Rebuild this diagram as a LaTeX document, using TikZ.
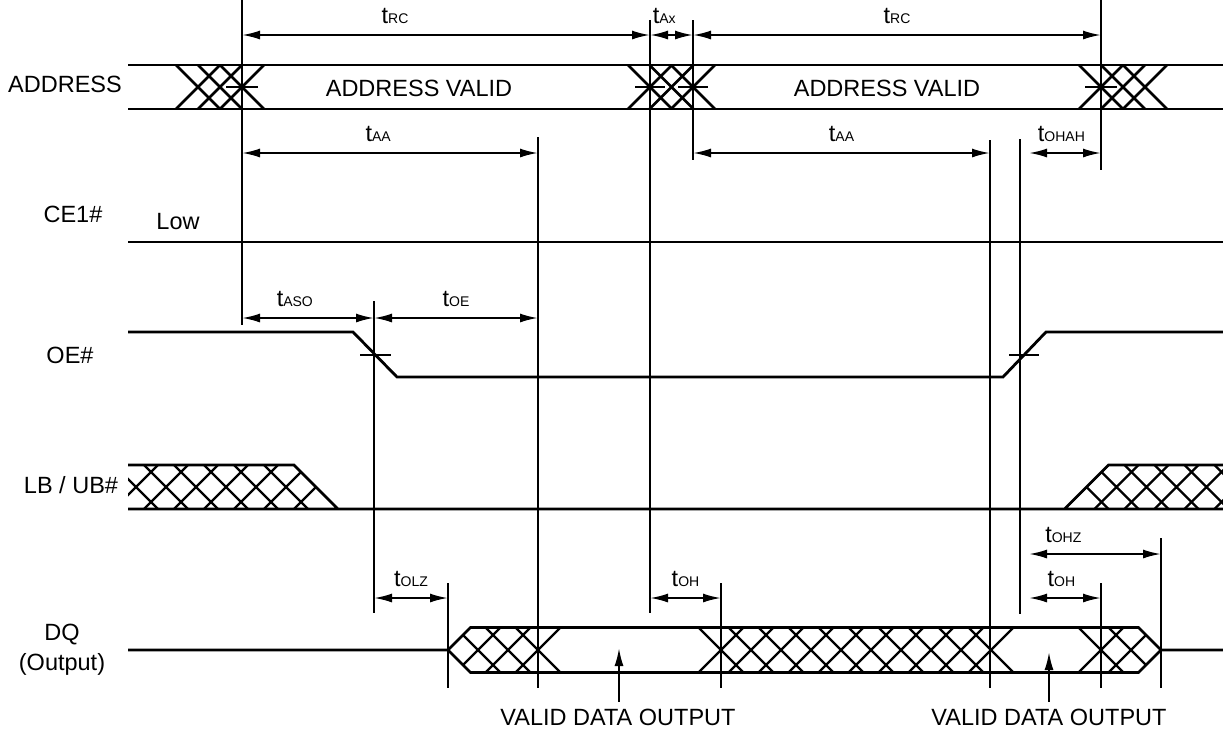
\documentclass[tikz,border=0pt]{standalone}
\usepackage{fontspec}
\setmainfont{Liberation Sans}
\usetikzlibrary{arrows.meta}
\newcommand{\subfont}{\fontsize{7}{8}\selectfont}
\newcommand{\tsig}[1]{t{\subfont #1}}
\begin{document}
\begin{tikzpicture}[x=0.5pt,y=-0.5pt,
	font=\fontsize{11.75}{15}\selectfont,
	sig/.style={line width=1.4pt},
	tline/.style={line width=1pt},
	xhatch/.style={line width=1.2pt},
	tdim/.style={line width=1pt,{Latex[length=9pt,width=4.5pt]}-{Latex[length=9pt,width=4.5pt]}},
	lbl/.style={pos=0.5,anchor=base,yshift=6pt,inner sep=0pt},
	pointer/.style={line width=1pt,-{Latex[length=9pt,width=4.5pt]}}]
			\useasboundingbox (0,0) rectangle (1223,735);
			
			\coordinate (e1) at (242,0);
			\coordinate (e2) at (374,0);
			\coordinate (e3) at (448,0);
			\coordinate (e4) at (538,0);
			\coordinate (e5) at (650,0);
			\coordinate (e6) at (693,0);
			\coordinate (e7) at (721,0);
			\coordinate (e8) at (990,0);
			\coordinate (e9) at (1020,0);
			\coordinate (e9a) at (1029,0);
			\coordinate (e10) at (1101,0);
			\coordinate (e11) at (1161,0);
			
			\node (nAddr) at (65,84) {ADDRESS};
			\node (nCe) at (73,214) {CE1\#};
			\node (nLow) at (178,222) {Low};
			\node (nOe) at (70,355) {OE\#};
			\node (nLb) at (71,485) {LB / UB\#};
			\node[align=center] (nDq) at (62,650) {DQ\\(Output)};
			
			% address bus
			\draw [sig] (128,65) -- (1223,65) (128,109) -- (1223,109);
			\foreach \c in {198,220,242,650,671.5,693,1101,1123,1145}
			\draw [sig] (\c-22,65) -- (\c+22,109) (\c-22,109) -- (\c+22,65);
			\draw [tline] (226,87) -- (258,87) (635,87) -- (665,87) (678,87) -- (708,87) (1085,87) -- (1117,87);
			\node (av1) at (419,88) {ADDRESS VALID};
			\node (av2) at (887,88) {ADDRESS VALID};
			
			% CE1# and OE#
			\draw [sig] (128,242) -- (1223,242);
			\draw [sig] (128,332) -- (353,332) -- (397,377) -- (1003,377) -- (1046,332) -- (1223,332);
			\draw [tline] (360,355) -- (391,355) (1009,355) -- (1039,355);
			
			% LB / UB#
			\begin{scope}
			\clip (128,465) -- (294,465) -- (338,509) -- (128,509) -- cycle;
			\foreach \c in {136,166,...,316}
			\draw [xhatch] (\c-22,465) -- (\c+22,509) (\c-22,509) -- (\c+22,465);
			\end{scope}
			\begin{scope}
			\clip (1064.5,509) -- (1108.5,465) -- (1223,465) -- (1223,509) -- cycle;
			\foreach \c in {1086.5,1116.5,...,1236.5}
			\draw [xhatch] (\c-22,465) -- (\c+22,509) (\c-22,509) -- (\c+22,465);
			\end{scope}
			\draw [sig] (128,465) -- (294,465) -- (338,509) (128,509) -- (1223,509)
			(1064.5,509) -- (1108.5,465) -- (1223,465);
			
			% DQ
			\begin{scope}
			\clip (448,650) -- (470.5,627.5) -- (600,627.5) -- (600,672.5) -- (470.5,672.5) -- cycle;
			\foreach \c in {478,508,538}
			\draw [xhatch] (\c-22.5,627.5) -- (\c+22.5,672.5) (\c-22.5,672.5) -- (\c+22.5,627.5);
			\end{scope}
			\foreach \c in {721,751,...,991}
			\draw [xhatch] (\c-22.5,627.5) -- (\c+22.5,672.5) (\c-22.5,672.5) -- (\c+22.5,627.5);
			\begin{scope}
			\clip (1050,627.5) -- (1138.5,627.5) -- (1161,650) -- (1138.5,672.5) -- (1050,672.5) -- cycle;
			\foreach \c in {1101,1131}
			\draw [xhatch] (\c-22.5,627.5) -- (\c+22.5,672.5) (\c-22.5,672.5) -- (\c+22.5,627.5);
			\end{scope}
			\draw [sig] (128,650) -- (448,650) -- (470.5,627.5) -- (1138.5,627.5) -- (1161,650) -- (1223,650)
			(448,650) -- (470.5,672.5) -- (1138.5,672.5) -- (1161,650);
			
			\node (vd1) at (618,717) {VALID DATA OUTPUT};
			\node (vd2) at (1049,717) {VALID DATA OUTPUT};
			\draw [pointer] (vd1.north -| 619,0) -- (619,648);
			\draw [pointer] (vd2.north -| 1049,0) -- (1049,652);
			
			% timing marks
			\draw [tline] (e1) -- (e1 |- 0,325);
			\draw [tline] (e2 |- 0,301) -- (e2 |- 0,613);
			\draw [tline] (e3 |- 0,583) -- (e3 |- 0,688);
			\draw [tline] (e4 |- 0,137) -- (e4 |- 0,688);
			\draw [tline] (e5 |- 0,20) -- (e5 |- 0,613);
			\draw [tline] (e6 |- 0,20) -- (e6 |- 0,160);
			\draw [tline] (e7 |- 0,583) -- (e7 |- 0,688);
			\draw [tline] (e8 |- 0,140) -- (e8 |- 0,688);
			\draw [tline] (e9 |- 0,139) -- (e9 |- 0,614);
			\draw [tline] (e10) -- (e10 |- 0,170) (e10 |- 0,583) -- (e10 |- 0,688);
			\draw [tline] (e11 |- 0,538) -- (e11 |- 0,688);
			
			\draw [tdim] (e1 |- 0,35) -- (e5 |- 0,35) node[lbl,pos=0.375]{\tsig{RC}};
			\draw [tdim] (e5 |- 0,35) -- (e6 |- 0,35) node[lbl,pos=0.33]{\tsig{Ax}};
			\draw [tdim] (e6 |- 0,35) -- (e10 |- 0,35) node[lbl]{\tsig{RC}};
			\draw [tdim] (e1 |- 0,153) -- (e4 |- 0,153) node[lbl,pos=0.46]{\tsig{AA}};
			\draw [tdim] (e6 |- 0,153) -- (e8 |- 0,153) node[lbl]{\tsig{AA}};
			\draw [tdim] (e9a |- 0,153) -- (e10 |- 0,153) node[lbl,pos=0.45]{\tsig{OHAH}};
			\draw [tdim] (e1 |- 0,318) -- (e2 |- 0,318) node[lbl,pos=0.4]{\tsig{ASO}};
			\draw [tdim] (e2 |- 0,318) -- (e4 |- 0,318) node[lbl]{\tsig{OE}};
			\draw [tdim] (e9a |- 0,554) -- (e11 |- 0,554) node[lbl,pos=0.26]{\tsig{OHZ}};
			\draw [tdim] (e2 |- 0,598) -- (e3 |- 0,598) node[lbl]{\tsig{OLZ}};
			\draw [tdim] (e5 |- 0,598) -- (e7 |- 0,598) node[lbl]{\tsig{OH}};
			\draw [tdim] (e9a |- 0,598) -- (e10 |- 0,598) node[lbl,pos=0.45]{\tsig{OH}};
			\end{tikzpicture}
\end{document}
